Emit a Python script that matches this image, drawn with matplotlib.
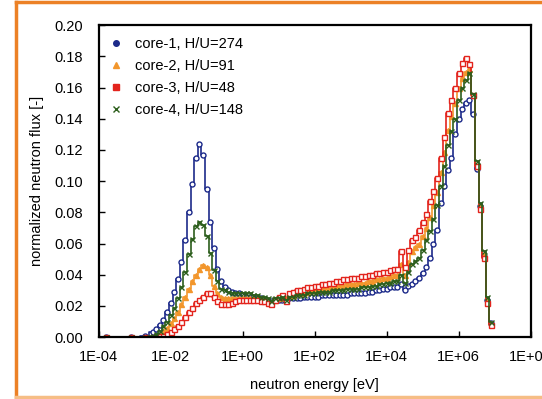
import matplotlib.pyplot as plt
import matplotlib.ticker as mticker
from matplotlib.lines import Line2D
import numpy as np

plt.rcParams['font.family'] = ['Liberation Sans', 'DejaVu Sans']

# group energies, log10 [eV]
log_e = [-3.8, -3.1, -2.7,
         -2.5, -2.4, -2.3, -2.2, -2.1, -2.0, -1.9, -1.8, -1.7, -1.6, -1.5, -1.4, -1.3,
         -1.2, -1.1, -1.0, -0.9, -0.8, -0.7, -0.6, -0.5, -0.4, -0.3, -0.2, -0.1,
         0.0, 0.1, 0.2, 0.3, 0.4, 0.5, 0.6, 0.7, 0.8, 0.9,
         1.0, 1.1, 1.2, 1.3, 1.4, 1.5, 1.6, 1.7, 1.8, 1.9,
         2.0, 2.1, 2.2, 2.3, 2.4, 2.5, 2.6, 2.7, 2.8, 2.9,
         3.0, 3.1, 3.2, 3.3, 3.4, 3.5, 3.6, 3.7, 3.8, 3.9,
         4.0, 4.1, 4.2,
         4.3, 4.4, 4.5, 4.6, 4.7, 4.8, 4.9, 5.0, 5.1, 5.2, 5.3, 5.4, 5.5, 5.6,
         5.7, 5.8, 5.9, 6.0, 6.1, 6.2, 6.3, 6.4, 6.5, 6.6, 6.7, 6.8, 6.9]

core1 = ([0.000, 0.000, 0.001] +
         [0.003, 0.005, 0.008, 0.011, 0.016, 0.022, 0.029, 0.037, 0.048, 0.062, 0.080, 0.098, 0.115,
          0.124, 0.117, 0.095, 0.074, 0.057, 0.044, 0.036, 0.032, 0.030, 0.029, 0.028, 0.028] +
         [0.027, 0.026, 0.026, 0.026, 0.025, 0.025, 0.024, 0.023, 0.023, 0.024,
          0.024, 0.024, 0.024, 0.025, 0.025, 0.025, 0.025, 0.026, 0.026, 0.026,
          0.026, 0.026, 0.027, 0.027, 0.027, 0.027, 0.027, 0.027, 0.027, 0.027,
          0.028, 0.028, 0.028, 0.028, 0.028, 0.029, 0.029, 0.030, 0.030, 0.031,
          0.031, 0.032, 0.032] +
         [0.032, 0.034, 0.030, 0.033, 0.034, 0.036, 0.038, 0.041, 0.045, 0.051, 0.060, 0.069, 0.086,
          0.097, 0.107, 0.115, 0.130, 0.140, 0.146, 0.150, 0.152, 0.143, 0.108, 0.084, 0.052,
          0.024, 0.009])

core2 = ([0.000, 0.000, 0.000] +
         [0.000, 0.001, 0.002, 0.004, 0.006, 0.009, 0.012, 0.016, 0.021, 0.026, 0.031, 0.036, 0.040,
          0.044, 0.046, 0.045, 0.040, 0.033, 0.028, 0.026, 0.025, 0.025, 0.025, 0.025, 0.025] +
         [0.025, 0.025, 0.025, 0.025, 0.025, 0.025, 0.025, 0.024, 0.022, 0.024,
          0.025, 0.026, 0.025, 0.027, 0.027, 0.028, 0.028, 0.029, 0.029, 0.030,
          0.030, 0.031, 0.031, 0.031, 0.032, 0.032, 0.033, 0.033, 0.033, 0.034,
          0.034, 0.034, 0.035, 0.035, 0.035, 0.036, 0.036, 0.037, 0.037, 0.038,
          0.038, 0.039, 0.040] +
         [0.040, 0.047, 0.040, 0.048, 0.055, 0.058, 0.060, 0.065, 0.070, 0.077, 0.085, 0.093, 0.106,
          0.119, 0.133, 0.142, 0.150, 0.160, 0.166, 0.170, 0.172, 0.155, 0.110, 0.085, 0.053,
          0.024, 0.009])

core3 = ([0.000, 0.000, 0.000] +
         [0.000, 0.000, 0.001, 0.001, 0.002, 0.003, 0.005, 0.007, 0.010, 0.013, 0.016, 0.019, 0.022,
          0.024, 0.026, 0.028, 0.028, 0.026, 0.023, 0.021, 0.021, 0.021, 0.022, 0.023, 0.024] +
         [0.024, 0.024, 0.024, 0.024, 0.024, 0.023, 0.023, 0.022, 0.021, 0.024,
          0.026, 0.027, 0.023, 0.028, 0.029, 0.030, 0.030, 0.031, 0.032, 0.032,
          0.033, 0.033, 0.034, 0.034, 0.035, 0.035, 0.036, 0.036, 0.037, 0.037,
          0.038, 0.038, 0.038, 0.039, 0.039, 0.040, 0.040, 0.041, 0.041, 0.042,
          0.042, 0.043, 0.044] +
         [0.044, 0.055, 0.045, 0.056, 0.062, 0.064, 0.069, 0.074, 0.079, 0.087, 0.094, 0.102, 0.115,
          0.128, 0.144, 0.152, 0.160, 0.169, 0.176, 0.179, 0.175, 0.155, 0.110, 0.082, 0.051,
          0.022, 0.008])

core4 = ([0.000, 0.000, 0.000] +
         [0.001, 0.002, 0.004, 0.007, 0.010, 0.014, 0.019, 0.025, 0.032, 0.042, 0.053, 0.063, 0.071,
          0.074, 0.072, 0.065, 0.054, 0.043, 0.036, 0.031, 0.030, 0.029, 0.028, 0.028, 0.028] +
         [0.028, 0.028, 0.028, 0.027, 0.027, 0.026, 0.026, 0.025, 0.023, 0.025,
          0.025, 0.026, 0.024, 0.026, 0.026, 0.027, 0.027, 0.027, 0.028, 0.028,
          0.028, 0.029, 0.029, 0.029, 0.029, 0.030, 0.030, 0.030, 0.030, 0.031,
          0.031, 0.031, 0.031, 0.032, 0.032, 0.032, 0.033, 0.033, 0.034, 0.034,
          0.035, 0.035, 0.036] +
         [0.036, 0.040, 0.035, 0.042, 0.047, 0.049, 0.051, 0.056, 0.062, 0.068, 0.076, 0.085, 0.097,
          0.110, 0.123, 0.132, 0.140, 0.152, 0.160, 0.165, 0.169, 0.156, 0.113, 0.086, 0.055,
          0.026, 0.010])

labels = ['core-1, H/U=274', 'core-2, H/U=91', 'core-3, H/U=48', 'core-4, H/U=148']
xtick_exp = [-4, -2, 0, 2, 4, 6, 8]
yticks = [0.00, 0.02, 0.04, 0.06, 0.08, 0.10, 0.12, 0.14, 0.16, 0.18, 0.20]

energy = 10.0 ** np.array(log_e)

fig = plt.figure(figsize=(5.42, 3.99), dpi=100)
ax = fig.add_axes([0.182, 0.155, 0.797, 0.782])

styles = [('#1c2a8a', 'o', 'white'),
          ('#f2962c', '^', '#f2962c'),
          ('#e3241d', 's', 'white'),
          ('#2c5e1c', 'x', '#2c5e1c')]

handles = []
for vals, lab, (c, m, fc) in zip([core1, core2, core3, core4], labels, styles):
    ax.plot(energy, vals, drawstyle='steps-mid', color=c, lw=1.2,
            marker=m, ms=3.6, mfc=fc, mec=c, mew=1.0)
    handles.append(Line2D([], [], ls='none', marker=m, ms=4, color=c, mfc=c, mec=c, mew=1.0,
                          label=lab))

ax.set_xscale('log')
ax.set_xlim(1e-4, 1e8)
ax.set_ylim(0, 0.2)
ax.set_xticks([10.0 ** k for k in xtick_exp])
ax.set_xticklabels(['1E%+03d' % k for k in xtick_exp])
ax.xaxis.set_minor_locator(mticker.NullLocator())
ax.set_yticks(yticks)
ax.yaxis.set_major_formatter(mticker.FormatStrFormatter('%.2f'))
ax.tick_params(direction='in', length=4, width=1, labelsize=10.5)
ax.tick_params(axis='y', pad=11)
ax.tick_params(axis='x', pad=9)
for s in ax.spines.values():
    s.set_linewidth(1.6)

ax.set_xlabel('neutron energy [eV]', fontsize=10.5, labelpad=10)
ax.set_ylabel('normalized neutron flux [-]', fontsize=10.5, labelpad=8)

ax.legend(handles=handles, loc='upper left', frameon=False, fontsize=10.5,
          handlelength=0.8, handletextpad=0.9, labelspacing=0.55,
          borderaxespad=0.4, borderpad=0.4)

# orange frame of the screenshot
fig.add_artist(Line2D([16 / 542, 16 / 542], [2 / 399, 1 - 2 / 399], transform=fig.transFigure,
                      color='#ec8126', lw=2.5))
fig.add_artist(Line2D([16 / 542, 1], [1 - 2 / 399, 1 - 2 / 399], transform=fig.transFigure,
                      color='#ec8126', lw=2.5))
fig.add_artist(Line2D([16 / 542, 1], [2 / 399, 2 / 399], transform=fig.transFigure,
                      color='#f6bd85', lw=2.5))

fig.savefig('out.png', dpi=100)
